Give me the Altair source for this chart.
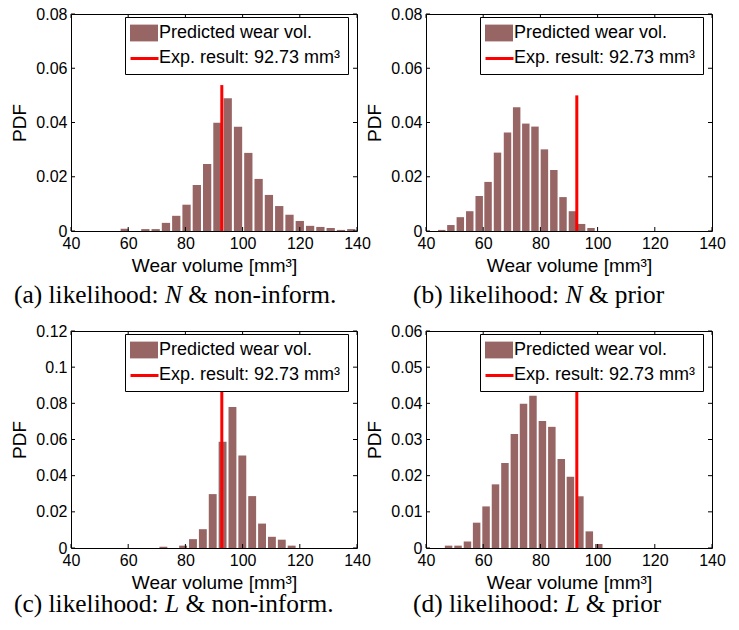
import altair as alt
import pandas as pd

SERIES = ["Predicted wear vol.", "Exp. result: 92.73 mm³"]
EXP_RESULT = 92.73
BROWN = "#986565"
RED = "#ff0000"

# ---- data ----
centers_a = [58.8, 62.4, 66.0, 69.6, 73.2, 76.8, 80.4, 84.0, 87.6, 91.2, 94.8, 98.4,
             102.0, 105.6, 109.2, 112.8, 116.4, 120.0, 123.6, 127.2, 130.8, 134.4, 138.0]
pdf_a = [0.0008, 0.0, 0.0007, 0.0007, 0.0030, 0.0056, 0.0097, 0.0170, 0.0247, 0.0399, 0.0489, 0.0384,
         0.0288, 0.0192, 0.0133, 0.0092, 0.0060, 0.0037, 0.0019, 0.0015, 0.0011, 0.0004, 0.0007]
binw_a = 3.62

centers_b = [45.5, 48.7, 52.0, 55.3, 58.6, 61.7, 65.0, 68.5, 71.7, 74.9, 78.1, 81.4,
             84.7, 87.9, 91.2, 94.4, 97.7]
pdf_b = [0.0004, 0.0022, 0.0051, 0.0073, 0.0129, 0.0181, 0.0289, 0.0363, 0.0456, 0.0396, 0.0385, 0.0301,
         0.0225, 0.0125, 0.0073, 0.0026, 0.0011]
binw_b = 3.26

centers_c = [72.3, 75.75, 79.2, 82.65, 86.1, 89.55, 93.0, 96.45, 99.9, 103.35, 106.8, 110.25, 113.7, 117.15]
pdf_c = [0.0007, 0.0, 0.0013, 0.0049, 0.0104, 0.0298, 0.0588, 0.0780, 0.0511, 0.0287, 0.0135, 0.0062,
         0.0046, 0.0013]
binw_c = 3.45

centers_d = [47.9, 51.2, 54.5, 57.7, 61.0, 64.3, 67.6, 70.9, 74.1, 77.4, 80.7, 84.0,
             87.3, 90.5, 93.8, 97.1, 100.4]
pdf_d = [0.00065, 0.00065, 0.0018, 0.0070, 0.0115, 0.0176, 0.0235, 0.0315, 0.0399, 0.0421, 0.0351, 0.0335,
         0.0246, 0.0197, 0.0143, 0.0046, 0.0011]
binw_d = 3.28

line_top = {"a": 0.0538, "b": 0.050, "c": 0.10, "d": 0.050}

x_ticks = [40, 60, 80, 100, 120, 140]
y_ticks_ab = [0, 0.02, 0.04, 0.06, 0.08]
y_ticks_c = [0, 0.02, 0.04, 0.06, 0.08, 0.10, 0.12]
y_ticks_d = [0, 0.01, 0.02, 0.03, 0.04, 0.05, 0.06]

caption_a = ["(a) likelihood:", "N", "& non-inform."]
caption_b = ["(b) likelihood:", "N", "& prior"]
caption_c = ["(c) likelihood:", "L", "& non-inform."]
caption_d = ["(d) likelihood:", "L", "& prior"]

# ---- layout ----
W, H = 286, 217
TICK = 4
CAP_FS = 25.4
EM = {"(a) likelihood:": 5.694, "(b) likelihood:": 5.75, "(c) likelihood:": 5.694,
      "(d) likelihood:": 5.75, "N": 0.667, "L": 0.556, "& non-inform.": 5.833, "& prior": 2.972}
SP = 0.25

RECT = "M-2,-1.2H2V1.2H-2Z"
LEG_X, LEG_Y = 54, 3

legend_box = alt.Legend(
    title=None, orient="none", legendX=LEG_X, legendY=LEG_Y, direction="vertical",
    fillColor="white", strokeColor="black", padding=7,
    symbolType=RECT, symbolSize=196, symbolOffset=3, symbolStrokeWidth=0,
    labelOffset=6, rowPadding=7,
    labelFont="Liberation Sans", labelFontSize=18, labelColor="black", labelLimit=400,
)
legend_line = alt.Legend(
    title=None, orient="none", legendX=LEG_X + 4, legendY=LEG_Y + 26, zindex=2,
    padding=0, symbolType="stroke", symbolSize=784, symbolStrokeWidth=3, symbolOffset=0,
    labelExpr="''", labelOpacity=0, labelFontSize=18,
)

X_AXIS = alt.Axis(values=x_ticks, title="Wear volume [mm³]", labelFlush=False, labelOverlap=False,
                  titlePadding=5, labelPadding=4)


def panel(key, centers, pdf, binw, ymax, yticks, caption, cap_start, cap_base):
    xs = alt.Scale(domain=[40, 140], nice=False, zero=False)
    ys = alt.Scale(domain=[0, ymax], nice=False, zero=True)
    y_axis = alt.Axis(values=yticks, format=".2~f", title="PDF", labelOverlap=False,
                      titlePadding=6, labelPadding=4)
    df = pd.DataFrame({"center": centers, "pdf": pdf})
    df["series"] = SERIES[0]
    bars = alt.Chart(df).transform_filter("datum.pdf > 0").transform_calculate(
        lo=f"datum.center - {0.4 * binw}", hi=f"datum.center + {0.4 * binw}"
    ).mark_rect(clip=True).encode(
        x=alt.X("lo:Q", scale=xs, axis=X_AXIS),
        x2="hi:Q",
        y=alt.Y("pdf:Q", scale=ys, axis=y_axis),
        y2=alt.datum(0),
        fill=alt.Fill("series:N", scale=alt.Scale(domain=SERIES, range=[BROWN, "white"]), legend=legend_box),
    )
    ldf = pd.DataFrame({"exp": [EXP_RESULT], "base": [0.0], "top": [line_top[key]], "series": [SERIES[1]]})
    rule = alt.Chart(ldf).mark_rule(strokeWidth=3).encode(
        x=alt.X("exp:Q", scale=xs, axis=X_AXIS),
        y=alt.Y("base:Q", scale=ys, axis=y_axis),
        y2="top:Q",
        stroke=alt.Stroke("series:N", scale=alt.Scale(domain=[SERIES[1]], range=[RED]), legend=legend_line),
    )
    xt = pd.DataFrame({"t": x_ticks})
    yt = pd.DataFrame({"t": yticks})
    tick_b = alt.Chart(xt).mark_rule(color="black", strokeWidth=1).encode(
        x=alt.X("t:Q", scale=xs, axis=X_AXIS), y=alt.value(H), y2=alt.value(H - TICK))
    tick_t = alt.Chart(xt).mark_rule(color="black", strokeWidth=1).encode(
        x=alt.X("t:Q", scale=xs, axis=X_AXIS), y=alt.value(0), y2=alt.value(TICK))
    tick_l = alt.Chart(yt).mark_rule(color="black", strokeWidth=1).encode(
        y=alt.Y("t:Q", scale=ys, axis=y_axis), x=alt.value(0), x2=alt.value(TICK))
    tick_r = alt.Chart(yt).mark_rule(color="black", strokeWidth=1).encode(
        y=alt.Y("t:Q", scale=ys, axis=y_axis), x=alt.value(W), x2=alt.value(W - TICK))

    p1, sym, p3 = caption
    x0 = cap_start
    xs_pos = [x0, x0 + (EM[p1] + SP) * CAP_FS, x0 + (EM[p1] + SP + EM[sym] + SP) * CAP_FS]
    caps = []
    for txt, xp, style in zip(caption, xs_pos, ["normal", "italic", "normal"]):
        caps.append(alt.Chart(pd.DataFrame({"t": [txt]})).mark_text(
            align="left", baseline="alphabetic", font="Liberation Serif", fontSize=CAP_FS,
            fontStyle=style, color="black").encode(
            text="t:N", x=alt.value(xp), y=alt.value(H + cap_base)))

    return alt.layer(bars, rule, tick_b, tick_t, tick_l, tick_r, *caps).properties(width=W, height=H)


pa = panel("a", centers_a, pdf_a, binw_a, 0.08, y_ticks_ab, caption_a, -57, 72)
pb = panel("b", centers_b, pdf_b, binw_b, 0.08, y_ticks_ab, caption_b, -13, 72)
pc = panel("c", centers_c, pdf_c, binw_c, 0.12, y_ticks_c, caption_c, -57, 64)
pd_ = panel("d", centers_d, pdf_d, binw_d, 0.06, y_ticks_d, caption_d, -13, 64)

chart = alt.concat(pa, pb, pc, pd_, columns=2, spacing={"row": 100, "column": 69}, bounds="flush").resolve_scale(
    fill="independent", stroke="independent"
).properties(
    padding={"left": 10, "top": 5, "right": 5, "bottom": 5}, background="white"
).configure_view(
    stroke="black", strokeWidth=1
).configure_axis(
    grid=False, domain=False, ticks=False, labelOverlap=False,
    labelFont="Liberation Sans", labelFontSize=16, labelColor="black",
    titleFont="Liberation Sans", titleFontSize=19, titleFontWeight="normal", titleColor="black",
)

chart.save("out.html", embed_options={"renderer": "svg", "actions": False})
